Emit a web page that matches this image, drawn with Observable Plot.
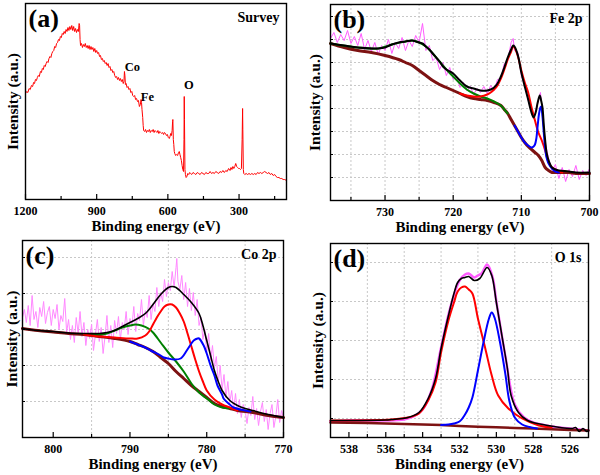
<!DOCTYPE html>
<html><head><meta charset="utf-8">
<script src="https://cdn.jsdelivr.net/npm/d3@7"></script>
<script src="https://cdn.jsdelivr.net/npm/@observablehq/plot@0.6"></script>
<style>
html,body{margin:0;padding:0;background:#fff;}
#fig{position:relative;width:600px;height:475px;overflow:hidden;background:#fff;}
.panel{position:absolute;}
</style></head><body><div id="fig"></div>
<script>
// ---------- (a) Survey ----------
const surveyTicks = [1200, 900, 600, 300];
const surveyMinor = [1050, 750, 450, 150];
const survey = [[1200,106],[1195,108],[1190,107],[1185,111],[1180,110],[1175,114],[1170,113],[1166,117],[1162,116],[1158,120],[1154,119],[1150,122],[1146,124],[1142,123],[1137,128],[1133,127],[1129,131],[1125,130],[1121,134],[1117,133],[1113,136],[1109,138],[1105,137],[1101,141],[1097,143],[1093,142],[1089,146],[1085,148],[1081,149],[1077,153],[1073,152],[1069,156],[1065,157],[1061,160],[1057,159],[1053,163],[1049,162],[1045,166],[1041,165],[1037,168],[1033,166],[1029,170],[1025,168],[1021,172],[1017,169],[1013,173],[1009,170],[1005,174],[1001,169],[997,173],[993,168],[989,171],[985,167],[981,170],[977,168],[974,176],[972,174],[970,160],[968,154],[964,156],[960,152],[956,155],[952,153],[948,156],[944,152],[940,154],[936,151],[932,154],[928,150],[924,153],[920,150],[916,152],[912,148],[908,151],[904,147],[900,149],[896,146],[892,147],[888,143],[884,144],[880,140],[876,141],[872,138],[868,139],[864,136],[860,137],[856,134],[852,136],[848,132],[844,133],[840,129],[836,130],[832,127],[828,128],[824,124],[820,122],[816,123],[812,120],[808,122],[804,119],[800,121],[796,118],[792,120],[788,116],[785,118],[783,128],[781,124],[779,115],[776,116],[772,112],[768,113],[764,110],[760,111],[756,107],[752,108],[748,104],[744,103],[740,104],[736,100],[732,101],[728,98],[724,99],[720,93],[716,95],[713,100],[711,97],[709,90],[706,82],[704,74],[702,69],[698,68],[694,70],[690,67],[686,69],[682,68],[678,70],[674,67],[670,69],[666,68],[662,70],[658,67],[654,69],[650,68],[646,67],[642,69],[638,66],[634,68],[630,67],[626,66],[622,67],[618,65],[614,67],[610,66],[606,64],[602,65],[598,62],[594,61],[591,63],[588,66],[585,64],[582,69],[580,78],[579,80],[577,60],[575,55],[573,48],[571,46],[567,44],[563,45],[559,44],[555,47],[552,48],[549,45],[546,42],[543,39],[540,34],[537,30],[534,28],[532,60],[531,103],[530,80],[528,30],[526,25],[523,22],[520,23],[516,26],[512,25],[508,27],[504,26],[500,25],[494,27],[488,26],[482,25],[476,27],[470,26],[464,25],[458,27],[452,26],[446,25],[440,27],[434,26],[428,26],[422,28],[416,26],[410,27],[404,26],[398,28],[392,27],[386,26],[380,28],[374,27],[368,29],[362,27],[356,29],[350,28],[344,31],[338,29],[334,32],[330,30],[326,33],[322,31],[318,33],[314,36],[310,33],[306,32],[302,31],[298,31],[294,30],[290,31],[287,60],[285,91],[284,70],[282,30],[280,26],[276,25],[270,26],[264,25],[258,26],[252,25],[246,26],[240,25],[234,26],[228,25],[222,27],[216,26],[210,27],[204,26],[198,27],[192,28],[186,27],[180,26],[174,27],[168,25],[162,26],[156,24],[150,25],[144,23],[138,22],[132,22],[126,21],[120,21],[114,20],[108,20],[100,19]];
const surveyLabels = [{eV:782, h:129, text:"Co"}, {eV:714, h:99, text:"Fe"}, {eV:532, h:111, text:"O"}];

// ---------- (b) Fe 2p ----------
const feTicks = [730, 720, 710, 700];
const feMinor = [735, 725, 715, 705];
const feGridX = [735, 730, 725, 720, 715, 710, 705];
const feGridY = [23, 46, 69, 92, 115, 138, 161, 184];
const feRaw = [[738,162],[737.5,168],[737,158],[736.5,166],[736,160],[735.5,170],[735,157],[734.5,164],[734,155],[733.5,167],[733,151],[732.5,160],[732,149],[731.5,158],[731,146],[730.5,155],[730,150],[729.5,161],[729,147],[728.5,158],[728,152],[727.5,163],[727,150],[726.5,160],[726,154],[725.5,165],[725,158],[724.5,177],[724,150],[723.5,155],[723,140],[722.5,143],[722,131],[721.5,138],[721,125],[720.5,133],[720,121],[719.5,124],[719,113],[718.5,118],[718,110],[717.5,114],[717,106],[716.5,112],[716,108],[715.5,114],[715,107],[714.5,115],[714,110],[713.5,121],[713,122],[712.5,137],[712,140],[711.5,158],[711.2,162],[711,150],[710.5,148],[710,125],[709.5,115],[709,100],[708.5,88],[708,86],[707.5,100],[707.2,108],[707,95],[706.5,58],[706,42],[705.5,30],[705,36],[704.5,22],[704,33],[703.5,19],[703,31],[702.5,24],[702,35],[701.5,21],[701,30],[700.5,25],[700,32]];
const feBkg = [[738,157],[736,153],[734,150],[732,148],[730,145],[728,141],[727,138],[726,135],[725,130],[724,125],[723,120],[722,116],[721,113],[720,110],[719,107],[718,104],[717,102],[716,101],[715,100],[714,98],[713,95],[712.5,91],[712,87],[711.5,81],[711,75],[710.5,69],[710,63],[709.5,58],[709,54],[708.5,51],[708,48],[707.5,45],[707,40],[706.5,33],[706,30],[705.5,28],[705,28],[704,28],[703,28],[702,27],[701,27],[700,27]];
const feSat = [[738,157],[734,153],[731,152],[729,156],[727,159],[726,160],[725,158],[724,154],[723,147],[722,139],[721,131],[720,124],[719,117],[718,111],[717,107],[716,104],[715,102],[714,99],[713,95],[712.5,91],[712,87]];
const feMain = [[719,107],[718,105],[717,104],[716,104],[715,106],[714.5,108],[714,111],[713.5,115],[713,122],[712.5,131],[712,141],[711.5,149],[711.2,154],[711,153],[710.5,144],[710,130],[709.5,118],[709,108],[708.5,93],[708,80],[707.5,68],[707,60],[706.5,50],[706,38],[705.5,33],[705,31],[704.5,29],[704,28]];
const feLow = [[711,75],[710.5,69],[710,63],[709.5,58],[709,55],[708.5,53],[708.2,54],[708,56],[707.8,62],[707.6,75],[707.4,87],[707.2,93],[707.1,94],[706.9,84],[706.7,67],[706.5,52],[706.3,43],[706,37],[705.5,32],[705,29],[704.5,28]];
const feEnv = [[738,157],[736,155],[734,153],[732,152],[731,152],[730,153],[729,156],[728,158],[727,159],[726,160],[725.5,159],[725,158],[724.5,157],[724,154],[723.5,151],[723,147],[722,139],[721.5,134],[721,131],[720,127],[719,120],[718,114],[717,112],[716,110],[715,110],[714.5,111],[714,113],[713.5,117],[713,124],[712.5,133],[712,143],[711.5,151],[711.2,155],[711,154],[710.5,145],[710,128],[709.5,114],[709,101],[708.6,90],[708.2,83],[707.9,88],[707.6,98],[707.3,105],[707.1,100],[706.9,93],[706.7,75],[706.5,60],[706.3,48],[706,40],[705.5,33],[705,31],[704.5,30],[703,29],[702,28],[700,28]];

// ---------- (c) Co 2p ----------
const coTicks = [800, 790, 780, 770];
const coMinor = [795, 785, 775];
const coGridX = [795, 785, 775];
const coGridY = [36, 72, 108, 144, 180];
const coRaw = [[804,120],[803.75,128],[803.5,115],[803.25,132],[803,112],[802.75,142],[802.5,118],[802.25,126],[802,110],[801.75,130],[801.5,121],[801.25,136],[801,114],[800.75,125],[800.5,131],[800.25,112],[800,128],[799.75,119],[799.5,133],[799.25,108],[799,122],[798.75,116],[798.5,139],[798.25,105],[798,118],[797.75,98],[797.5,112],[797.25,95],[797,120],[796.75,104],[796.5,126],[796.25,101],[796,115],[795.75,92],[795.5,108],[795.25,99],[795,113],[794.75,87],[794.5,103],[794.25,118],[794,96],[793.75,110],[793.5,84],[793.25,101],[793,122],[792.75,95],[792.5,112],[792.25,90],[792,117],[791.75,104],[791.5,121],[791.25,98],[791,115],[790.75,108],[790.5,126],[790.25,103],[790,119],[789.75,111],[789.5,131],[789.25,106],[789,124],[788.75,117],[788.5,138],[788.25,112],[788,127],[787.75,120],[787.5,142],[787.25,118],[787,134],[786.75,126],[786.5,150],[786.25,131],[786,145],[785.75,136],[785.5,158],[785.25,141],[785,155],[784.75,147],[784.5,166],[784.25,150],[784,170],[783.9,179],[783.75,156],[783.5,148],[783.25,162],[783,138],[782.75,155],[782.5,131],[782.25,149],[782,127],[781.75,145],[781.5,122],[781.25,138],[781,112],[780.75,120],[780.5,98],[780.25,108],[780,86],[779.75,104],[779.5,77],[779.25,92],[779,70],[778.75,81],[778.5,55],[778.25,72],[778,48],[777.75,63],[777.5,40],[777.25,56],[777,35],[776.75,47],[776.5,28],[776.25,44],[776,24],[775.75,38],[775.5,20],[775.25,33],[775,27],[774.75,14],[774.5,30],[774.25,22],[774,41],[773.75,18],[773.5,29],[773.25,12],[773,26],[772.75,35],[772.5,16],[772.25,28],[772,8],[771.75,24],[771.5,33],[771.25,10],[771,21],[770.75,38],[770.5,15],[770.25,27],[770,19]];
const coBkg = [[804,109],[802,107],[800,105.5],[798,104],[796,103],[794,101],[792,99],[790,96],[789,93],[788,90],[787,86],[786,80],[785,74],[784,66],[783,59],[782,52],[781,46],[780,40],[779,34],[778,31],[777,29],[776,27],[774,25],[772,22],[770,20]];
const coSat = [[795,102],[794,103],[793,104],[792,107],[791,110],[790,112],[789.3,113],[788.5,112],[787.6,109],[787,105],[786,95],[785,85],[784,76],[783,66],[782,54],[781,45],[780,39],[779,33],[778,30],[777,29]];
const coMain = [[796,103],[794,101],[792,100],[790,99],[789,99],[788,102],[787.5,106],[787,113],[786.5,120],[786,126],[785.5,131],[785,133],[784.5,133],[784,130],[783.5,124],[783,116],[782.5,104],[782,91],[781.5,78],[781,66],[780.5,56],[780,47],[779,38],[778,33],[777,30],[776,27]];
const coLow = [[790,96],[789,93],[788,90],[787.3,87],[786,82],[785.6,80],[785,79],[784.3,78],[783.4,79],[782.6,87],[782,94],[781.7,97],[781.2,99],[781,99],[780.4,92],[780,84],[779.5,72],[779,62],[778.6,52],[778,43],[777.8,39],[777,33],[776.5,30],[775,27],[774.3,26]];
const coEnv = [[804,109],[802,107],[800,106],[798,104.5],[796,104],[794,104],[793,105],[792,107],[791,111],[790,115],[789,119],[788,124],[787,133],[786,143],[785,150],[784.5,151],[784,150],[783,143],[782,135],[781,124],[780.5,112],[780,97],[779.5,82],[779,67],[778.5,56],[778,47],[777,37],[776,32],[775,29],[774,27],[772,23],[770,20]];

// ---------- (d) O 1s ----------
const oTicks = [538, 536, 534, 532, 530, 528, 526];
const oMinor = [537, 535, 533, 531, 529, 527];
const oGridX = [537, 535, 533, 531, 529, 527];
const oGridY = [19, 58, 97, 136, 175];
const oRaw = [[539,16],[538,17],[537,17],[536,17],[535,18],[534.5,21],[534,28],[533.5,48],[533,90],[532.5,130],[532,157],[531.7,163],[531.5,164],[531.2,160],[531,162],[530.8,164],[530.5,173],[530.2,160],[530,136],[529.5,80],[529,33],[528.5,20],[528,15],[527,11],[526,9],[525,7]];
const oBkg = [[539,15],[537,14.4],[535,13.6],[533,12.5],[532,11.5],[531,10.8],[530,10.2],[529,9.6],[528,9],[527,8.3],[526,7.6],[525,7]];
const oLattice = [[533,12.5],[532.6,13],[532.3,14],[532,16],[531.7,23],[531.5,30],[531.3,40],[531,67],[530.7,95],[530.4,119],[530.25,125],[530.1,120],[529.8,95],[529.5,62],[529.3,37],[529,20],[528.6,13],[528.2,10.5],[527.8,9]];
const oDefect = [[539,17],[535.7,18],[534.8,20],[534.2,24],[533.7,37],[533.3,55],[533,85],[532.6,117],[532.3,135],[532.1,146],[531.9,150],[531.7,151],[531.5,148],[531.3,144],[531,119],[530.6,89],[530.25,62],[529.9,42],[529.35,29],[528.6,19],[527.7,12],[527,10]];
const oEnv = [[539,17],[536,17.5],[535.7,18],[534.8,20],[534.2,25],[533.7,39],[533.3,59],[533,89],[532.6,122],[532.3,144],[532.1,155],[531.9,159],[531.7,160],[531.5,161],[531.2,157],[530.9,159],[530.5,170],[530.25,162],[530,135],[529.7,102],[529.4,69],[529.2,42],[528.8,25],[528.3,17],[527.2,12],[525.9,9],[525.7,10],[525.5,6],[525.3,9],[525.1,6],[525,7]];

const serif = "'Liberation Serif','Times New Roman',serif";
const C = {raw:"#ff5cff", rawC:"#ff88ff", bkg:"#7d1212", green:"#008000", red:"#ff0000", blue:"#0000ff", black:"#000000"};

function panel(o) {
  const iw = o.width - o.ml - o.mr, ih = o.height - o.mt - o.mb;
  const marks = [];
  if (o.gridX) marks.push(Plot.ruleX(o.gridX, {x: d => d, stroke: "#c8c8c8", strokeDasharray: "2,2"}));
  if (o.gridY) marks.push(Plot.ruleY(o.gridY, {y: d => d, stroke: "#c8c8c8", strokeDasharray: "2,2"}));
  for (const s of o.series) {
    marks.push(Plot.line(s.data, {x: d => d[0], y: d => d[1], stroke: s.color, strokeWidth: s.w, curve: s.curve || "linear"}));
  }
  marks.push(Plot.frame({stroke: "#000", strokeWidth: 1.4}));
  marks.push(Plot.tickX(o.major, {x: d => d, insetTop: ih - 5, stroke: "#000", strokeWidth: 1.2}));
  marks.push(Plot.tickX(o.minor, {x: d => d, insetTop: ih - 3, stroke: "#000", strokeWidth: 1.2}));
  if (o.gridY) marks.push(Plot.tickY(o.gridY, {y: d => d, insetRight: iw - 3, stroke: "#000", strokeWidth: 1}));
  marks.push(Plot.text(o.major, {x: d => d, text: d => String(d), frameAnchor: "bottom", dy: 12, lineAnchor: "middle", textAnchor: "middle", fontSize: 12}));
  marks.push(Plot.text(["Binding energy (eV)"], {text: d => d, frameAnchor: "bottom", dy: 31, lineAnchor: "bottom", textAnchor: "middle", fontSize: 15}));
  marks.push(Plot.text(["Intensity (a.u.)"], {text: d => d, frameAnchor: "left", dx: o.ylabDx, rotate: -90, lineAnchor: "middle", textAnchor: "middle", fontSize: 15.5}));
  marks.push(Plot.text([o.tag], {text: d => d, frameAnchor: "top-left", dx: 3, dy: 5, lineAnchor: "top", textAnchor: "start", fontSize: 26}));
  marks.push(Plot.text([o.title], {text: d => d, frameAnchor: "top-right", dx: -7, dy: 9, lineAnchor: "top", textAnchor: "end", fontSize: 14}));
  if (o.extra) marks.push(...o.extra);
  const svg = Plot.plot({
    width: o.width, height: o.height,
    marginLeft: o.ml, marginRight: o.mr, marginTop: o.mt, marginBottom: o.mb,
    x: {domain: o.xDomain, axis: null},
    y: {domain: o.yDomain, axis: null},
    style: {fontFamily: serif, fontWeight: "bold", fontSize: "12px", background: "transparent", overflow: "visible", color: "#000"},
    marks
  });
  const div = document.createElement("div");
  div.className = "panel";
  div.style.left = o.left + "px";
  div.style.top = o.top + "px";
  div.appendChild(svg);
  document.getElementById("fig").appendChild(div);
}

panel({left: 0, top: 0, width: 300, height: 237, ml: 25, mr: 14, mt: 3, mb: 38,
  xDomain: [1200, 100], yDomain: [0, 196], major: surveyTicks, minor: surveyMinor,
  tag: "(a)", title: "Survey", ylabDx: -12,
  series: [{data: survey, color: C.red, w: 1}],
  extra: [Plot.text(surveyLabels, {x: "eV", y: "h", text: "text", textAnchor: "start", lineAnchor: "bottom", fontSize: 12.5})]
});

panel({left: 300, top: 0, width: 300, height: 237, ml: 30, mr: 11, mt: 4, mb: 37,
  xDomain: [738, 700], yDomain: [0, 196], major: feTicks, minor: feMinor,
  gridX: feGridX, gridY: feGridY, tag: "(b)", title: "Fe 2p", ylabDx: -15,
  series: [
    {data: feRaw, color: C.raw, w: 1},
    {data: feBkg, color: C.bkg, w: 3, curve: "catmull-rom"},
    {data: feSat, color: C.green, w: 2, curve: "catmull-rom"},
    {data: feMain, color: C.red, w: 2, curve: "catmull-rom"},
    {data: feLow, color: C.blue, w: 2, curve: "catmull-rom"},
    {data: feEnv, color: C.black, w: 2, curve: "catmull-rom"}
  ]
});

panel({left: 0, top: 237, width: 300, height: 238, ml: 22, mr: 17, mt: 3, mb: 38,
  xDomain: [804, 770], yDomain: [0, 197], major: coTicks, minor: coMinor,
  gridX: coGridX, gridY: coGridY, tag: "(c)", title: "Co 2p", ylabDx: -10,
  series: [
    {data: coRaw, color: C.rawC, w: 1},
    {data: coBkg, color: C.bkg, w: 3, curve: "catmull-rom"},
    {data: coSat, color: C.green, w: 2, curve: "catmull-rom"},
    {data: coMain, color: C.red, w: 2, curve: "catmull-rom"},
    {data: coLow, color: C.blue, w: 2, curve: "catmull-rom"},
    {data: coEnv, color: C.black, w: 1.6, curve: "catmull-rom"}
  ]
});

panel({left: 300, top: 237, width: 300, height: 238, ml: 30, mr: 12, mt: 6, mb: 38,
  xDomain: [539, 525], yDomain: [0, 194], major: oTicks, minor: oMinor,
  gridX: oGridX, gridY: oGridY, tag: "(d)", title: "O 1s", ylabDx: -12,
  series: [
    {data: oRaw, color: C.raw, w: 2.5, curve: "catmull-rom"},
    {data: oBkg, color: C.bkg, w: 2.5},
    {data: oDefect, color: C.red, w: 2, curve: "catmull-rom"},
    {data: oLattice, color: C.blue, w: 2, curve: "catmull-rom"},
    {data: oEnv, color: C.black, w: 1.6, curve: "catmull-rom"}
  ]
});
</script>
</body></html>
